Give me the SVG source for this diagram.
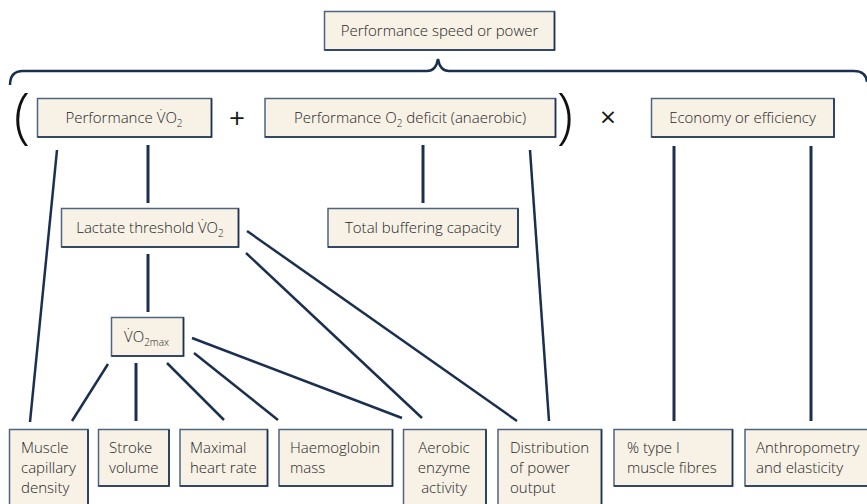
<svg xmlns="http://www.w3.org/2000/svg" width="867" height="504" viewBox="0 0 867 504">
<style>
.box rect{fill:#f7f1e6;stroke:#4f6480;stroke-width:1.5}
.box polyline{fill:none;stroke:#1e3352;stroke-width:1.6}
text{font-family:"Open Sans","Noto Sans","DejaVu Sans",sans-serif;font-size:15px;font-weight:300;fill:#1f1f1f}
.c{text-anchor:middle}
.sub{font-size:10px}
.op{font-weight:400;fill:#1a1a1a}
.par{font-weight:300;fill:#111111}
.v line{stroke:#1b2f4e;stroke-width:3}
.d line{stroke:#1b2f4e;stroke-width:2.5}
</style>
<rect width="867" height="504" fill="#ffffff"/>
<g id="connectors">
<path d="M10,85 Q10,71 23,71 L427,71 Q436,71 438,59 Q440,71 449,71 L854,71 Q866,71 867,82" fill="none" stroke="#1b2f4e" stroke-width="2.5"/>
<g class="v">
<line x1="148" y1="145" x2="148" y2="203"/>
<line x1="148" y1="254" x2="148" y2="312"/>
<line x1="423" y1="145" x2="423" y2="203"/>
<line x1="674" y1="146" x2="674" y2="421"/>
<line x1="811" y1="146" x2="811" y2="421"/>
<line x1="136" y1="363" x2="136" y2="421"/>
</g>
<g class="d">
<line x1="57" y1="150" x2="30" y2="422"/>
<line x1="530" y1="150" x2="549" y2="421"/>
<line x1="247" y1="231" x2="517" y2="421"/>
<line x1="246" y1="253" x2="422" y2="418"/>
<line x1="192" y1="338" x2="402" y2="418"/>
<line x1="194" y1="353" x2="278" y2="420"/>
<line x1="167" y1="363" x2="224" y2="420"/>
<line x1="108" y1="364" x2="72" y2="421"/>
</g>
</g>
<g id="top" class="box"><rect x="324.5" y="11.5" width="230" height="38.5"/><polyline points="324.5,50 554.5,50 554.5,11.5"/><text class="c" x="439.5" y="36">Performance speed or power</text></g>
<text x="22" y="137" class="c par" style="font-size:60px">(</text>
<text x="565" y="137" class="c par" style="font-size:60px">)</text>
<text x="237" y="128" class="c op" style="font-size:28px">+</text>
<text x="608" y="127" class="c op" style="font-size:28px">×</text>
<g id="perfvo2" class="box"><rect x="37.5" y="98.5" width="174" height="38.5"/><polyline points="37.5,137 211.5,137 211.5,98.5"/><text class="c" x="124" y="123">Performance V̇O<tspan class="sub" dy="4">2</tspan></text></g>
<g id="deficit" class="box"><rect x="265" y="98.5" width="290.5" height="38.5"/><polyline points="265,137 555.5,137 555.5,98.5"/><text class="c" x="410" y="123">Performance O<tspan class="sub" dy="4">2</tspan><tspan dy="-4"> deficit (anaerobic)</tspan></text></g>
<g id="economy" class="box"><rect x="651.5" y="98.5" width="182.5" height="38.5"/><polyline points="651.5,137 834,137 834,98.5"/><text class="c" x="742.5" y="123">Economy or efficiency</text></g>
<g id="lactate" class="box"><rect x="61.5" y="208.5" width="177" height="38.5"/><polyline points="61.5,247 238.5,247 238.5,208.5"/><text class="c" x="150" y="233">Lactate threshold V̇O<tspan class="sub" dy="4">2</tspan></text></g>
<g id="buffering" class="box"><rect x="328" y="208.5" width="190" height="38.5"/><polyline points="328,247 518,247 518,208.5"/><text class="c" x="423" y="233">Total buffering capacity</text></g>
<g id="vo2max" class="box"><rect x="111.5" y="317.5" width="72" height="38.5"/><polyline points="111.5,356 183.5,356 183.5,317.5"/><text x="124" y="342">V̇O<tspan class="sub" dy="4">2max</tspan></text></g>
<g id="capillary" class="box"><rect x="9.5" y="429.5" width="78.5" height="90"/><polyline points="88,429.5 88,519.5"/><text x="21" y="453">Muscle</text><text x="21" y="473">capillary</text><text x="21" y="493">density</text></g>
<g id="stroke" class="box"><rect x="98.5" y="429.5" width="70.5" height="56.5"/><polyline points="98.5,486 169,486 169,429.5"/><text x="109" y="453">Stroke</text><text x="109" y="473">volume</text></g>
<g id="heartrate" class="box"><rect x="180" y="429.5" width="87.5" height="56.5"/><polyline points="180,486 267.5,486 267.5,429.5"/><text x="190" y="453">Maximal</text><text x="190" y="473">heart rate</text></g>
<g id="haemoglobin" class="box"><rect x="279" y="429.5" width="113.5" height="56.5"/><polyline points="279,486 392.5,486 392.5,429.5"/><text x="290" y="453">Haemoglobin</text><text x="290" y="473">mass</text></g>
<g id="aerobic" class="box"><rect x="403.5" y="429.5" width="82.5" height="90"/><polyline points="486,429.5 486,519.5"/><text class="c" x="444" y="453">Aerobic</text><text class="c" x="444" y="473">enzyme</text><text class="c" x="444" y="493">activity</text></g>
<g id="distribution" class="box"><rect x="498" y="429.5" width="103.5" height="90"/><polyline points="601.5,429.5 601.5,519.5"/><text x="510" y="453">Distribution</text><text x="510" y="473">of power</text><text x="510" y="493">output</text></g>
<g id="typeI" class="box"><rect x="614" y="429.5" width="118.5" height="56.5"/><polyline points="614,486 732.5,486 732.5,429.5"/><text x="627" y="453">% type I</text><text x="627" y="473">muscle fibres</text></g>
<g id="anthropometry" class="box"><rect x="745" y="429.5" width="130" height="56.5"/><polyline points="745,486 875,486"/><text x="756" y="453">Anthropometry</text><text x="756" y="473">and elasticity</text></g>
</svg>
